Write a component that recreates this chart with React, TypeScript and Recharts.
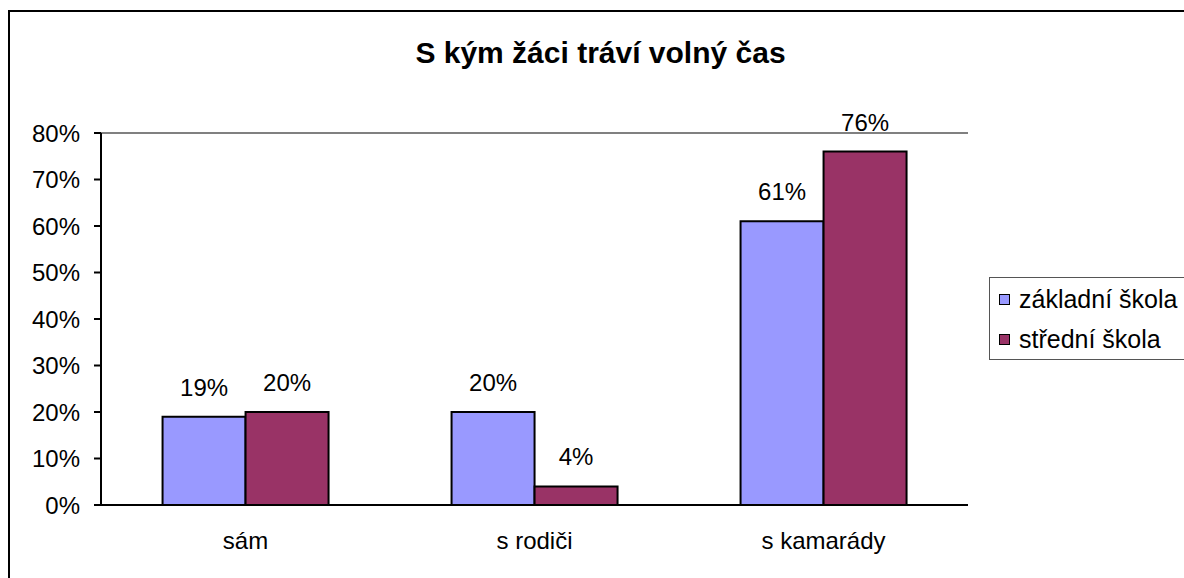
import React from 'react';
import { BarChart, Bar, XAxis, YAxis, Legend, LabelList, ReferenceLine } from 'recharts';

const categories = ['sám', 's rodiči', 's kamarády'];
const zakladniSkola = [19, 20, 61];
const stredniSkola = [20, 4, 76];
const yTicks = [0, 10, 20, 30, 40, 50, 60, 70, 80];
const boundaryTicks = [0, 1, 2, 3];
const seriesNames = ['základní škola', 'střední škola'];
const seriesColors = ['#9999FF', '#993366'];
const titleText = 'S kým žáci tráví volný čas';

const data = categories.map((c, i) => ({ category: c, zs: zakladniSkola[i], ss: stredniSkola[i] }));

const FONT = '"Liberation Sans", Arial, sans-serif';

if (typeof document !== 'undefined') {
  document.documentElement.style.overflow = 'hidden';
  document.body.style.overflow = 'hidden';
}

const LegendBox = () => (
  <div
    style={{
      borderTop: '1px solid #555',
      borderBottom: '1px solid #555',
      borderLeft: '1px solid #555',
      background: '#fff',
      padding: '1px 0 0 9px',
      width: 220,
      fontFamily: FONT,
      fontSize: 25,
      color: '#000',
      whiteSpace: 'nowrap',
    }}
  >
    {seriesNames.map((n, i) => (
      <div key={n} style={{ display: 'flex', alignItems: 'center', height: 40 }}>
        <span
          style={{
            display: 'inline-block',
            width: 9,
            height: 9,
            background: seriesColors[i],
            border: '1.5px solid #000',
            marginRight: 9,
          }}
        />
        <span>{n}</span>
      </div>
    ))}
  </div>
);

const pct = (v: any) => `${v}%`;

export default function App() {
  return (
    <div
      style={{
        position: 'fixed',
        left: 0,
        top: 0,
        width: 1184,
        height: 578,
        overflow: 'hidden',
        background: '#fff',
      }}
    >
      <div style={{ position: 'absolute', left: 8, top: 10, width: 1176, height: 2, background: '#000' }} />
      <div style={{ position: 'absolute', left: 8, top: 10, width: 2, height: 568, background: '#000' }} />
      <div style={{ position: 'absolute', left: 0, top: 0 }}>
        <BarChart
          width={1300}
          height={578}
          data={data}
          margin={{ top: 133, right: 332, bottom: 23, left: 11 }}
          barCategoryGap="21.3%"
          barGap={0}
        >
          <ReferenceLine y={80} stroke="#808080" strokeWidth={2} />
          <XAxis
            dataKey="category"
            tickLine={false}
            tickSize={0}
            tickMargin={27}
            axisLine={{ stroke: '#000', strokeWidth: 2 }}
            tick={{ fontSize: 24, fill: '#000', fontFamily: FONT }}
            height={50}
            interval={0}
          />
          <XAxis
            xAxisId="b"
            type="number"
            domain={[0, 3]}
            ticks={boundaryTicks}
            tick={false}
            tickSize={8}
            axisLine={false}
            tickLine={{ stroke: '#000', strokeWidth: 2 }}
            height={0}
            allowDataOverflow
            interval={0}
          />
          <YAxis
            domain={[0, 80]}
            ticks={yTicks}
            tickFormatter={pct}
            width={90}
            tickSize={7}
            tickMargin={14}
            axisLine={{ stroke: '#000', strokeWidth: 2 }}
            tickLine={{ stroke: '#000', strokeWidth: 2 }}
            tick={{ fontSize: 24, fill: '#000', fontFamily: FONT }}
            interval={0}
            allowDataOverflow
          />
          <YAxis
            yAxisId="r"
            orientation="right"
            domain={[0, 80]}
            width={0}
            tick={false}
            tickLine={false}
            axisLine={{ stroke: '#808080', strokeWidth: 2 }}
          />
          <Legend
            layout="horizontal"
            verticalAlign="middle"
            align="center"
            content={() => <LegendBox />}
            wrapperStyle={{ left: 989, top: 277, width: 'auto', height: 'auto' }}
          />
          <Bar
            dataKey="zs"
            name={seriesNames[0]}
            fill={seriesColors[0]}
            stroke="#000"
            strokeWidth={2}
            isAnimationActive={false}
          >
            <LabelList
              dataKey="zs"
              position="top"
              offset={21}
              formatter={pct}
              fill="#000"
              fontSize={24}
              fontFamily={FONT}
            />
          </Bar>
          <Bar
            dataKey="ss"
            name={seriesNames[1]}
            fill={seriesColors[1]}
            stroke="#000"
            strokeWidth={2}
            isAnimationActive={false}
          >
            <LabelList
              dataKey="ss"
              position="top"
              offset={21}
              formatter={pct}
              fill="#000"
              fontSize={24}
              fontFamily={FONT}
            />
          </Bar>
        </BarChart>
      </div>
      <div
        style={{
          position: 'absolute',
          left: 0,
          top: 38,
          width: 1201,
          textAlign: 'center',
          fontFamily: FONT,
          fontWeight: 'bold',
          fontSize: 30,
          lineHeight: '30px',
          color: '#000',
        }}
      >
        {titleText}
      </div>
    </div>
  );
}
